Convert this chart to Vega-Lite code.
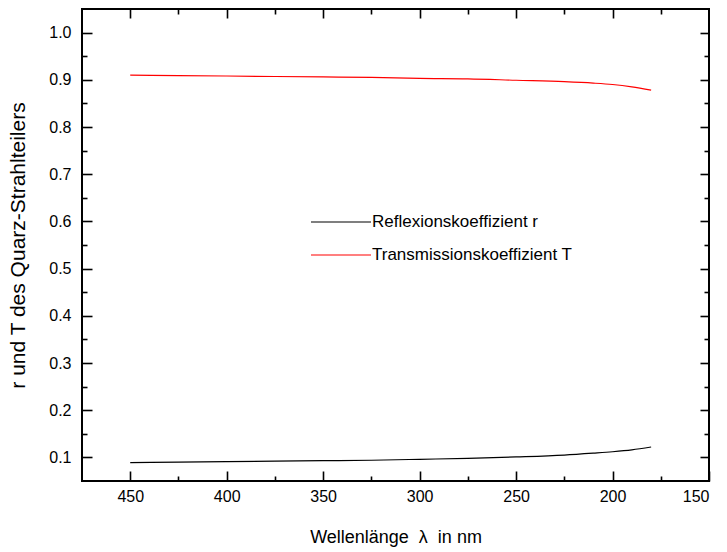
{
  "$schema": "https://vega.github.io/schema/vega-lite/v6.json",
  "width": 627,
  "height": 472,
  "autosize": {"type": "none"},
  "padding": {"left": 82, "top": 9, "right": 18, "bottom": 71},
  "background": "white",
  "config": {
    "font": "Liberation Sans",
    "view": {"stroke": "black", "strokeWidth": 2},
    "axis": {
      "grid": false,
      "domain": false,
      "tickColor": "black",
      "tickWidth": 1.6,
      "labelColor": "black",
      "titleColor": "black",
      "labelFont": "Liberation Sans",
      "titleFont": "Liberation Sans",
      "labelFontSize": 16,
      "titleFontSize": 18,
      "titleFontWeight": "normal"
    }
  },
  "data": {
    "values": [
      {"lambda": 450, "series": "Reflexionskoeffizient r", "value": 0.089},
      {"lambda": 425, "series": "Reflexionskoeffizient r", "value": 0.090},
      {"lambda": 400, "series": "Reflexionskoeffizient r", "value": 0.091},
      {"lambda": 375, "series": "Reflexionskoeffizient r", "value": 0.092},
      {"lambda": 350, "series": "Reflexionskoeffizient r", "value": 0.093},
      {"lambda": 325, "series": "Reflexionskoeffizient r", "value": 0.094},
      {"lambda": 300, "series": "Reflexionskoeffizient r", "value": 0.096},
      {"lambda": 275, "series": "Reflexionskoeffizient r", "value": 0.098},
      {"lambda": 250, "series": "Reflexionskoeffizient r", "value": 0.101},
      {"lambda": 225, "series": "Reflexionskoeffizient r", "value": 0.105},
      {"lambda": 210, "series": "Reflexionskoeffizient r", "value": 0.109},
      {"lambda": 200, "series": "Reflexionskoeffizient r", "value": 0.112},
      {"lambda": 190, "series": "Reflexionskoeffizient r", "value": 0.116},
      {"lambda": 180, "series": "Reflexionskoeffizient r", "value": 0.122},
      {"lambda": 450, "series": "Transmissionskoeffizient T", "value": 0.910},
      {"lambda": 425, "series": "Transmissionskoeffizient T", "value": 0.909},
      {"lambda": 400, "series": "Transmissionskoeffizient T", "value": 0.908},
      {"lambda": 375, "series": "Transmissionskoeffizient T", "value": 0.907},
      {"lambda": 350, "series": "Transmissionskoeffizient T", "value": 0.906},
      {"lambda": 325, "series": "Transmissionskoeffizient T", "value": 0.905},
      {"lambda": 300, "series": "Transmissionskoeffizient T", "value": 0.903},
      {"lambda": 275, "series": "Transmissionskoeffizient T", "value": 0.902},
      {"lambda": 250, "series": "Transmissionskoeffizient T", "value": 0.899},
      {"lambda": 225, "series": "Transmissionskoeffizient T", "value": 0.896},
      {"lambda": 210, "series": "Transmissionskoeffizient T", "value": 0.893},
      {"lambda": 200, "series": "Transmissionskoeffizient T", "value": 0.890},
      {"lambda": 190, "series": "Transmissionskoeffizient T", "value": 0.885},
      {"lambda": 180, "series": "Transmissionskoeffizient T", "value": 0.878}
    ]
  },
  "resolve": {"axis": {"x": "independent", "y": "independent"}},
  "layer": [
    {
      "mark": {"type": "line", "strokeWidth": 1.2, "interpolate": "monotone"},
      "encoding": {
        "x": {
          "field": "lambda", "type": "quantitative",
          "scale": {"domain": [150, 475], "reverse": true, "nice": false, "zero": false},
          "axis": {"orient": "bottom", "values": [450, 400, 350, 300, 250, 200, 150], "tickSize": 10, "offset": -10, "labelPadding": 7, "title": "Wellenlänge \u00a0λ\u00a0 in nm", "titlePadding": 24}
        },
        "y": {
          "field": "value", "type": "quantitative",
          "scale": {"domain": [0.05, 1.05], "nice": false, "zero": false},
          "axis": {"orient": "left", "values": [0.1, 0.2, 0.3, 0.4, 0.5, 0.6, 0.7, 0.8, 0.9, 1.0], "format": ".1f", "tickSize": 10, "offset": -10, "labelPadding": 11, "title": "r und T des Quarz-Strahlteilers", "titleFontSize": 21, "titlePadding": 20}
        },
        "color": {
          "field": "series", "type": "nominal",
          "scale": {"domain": ["Reflexionskoeffizient r", "Transmissionskoeffizient T"], "range": ["black", "red"]},
          "legend": {"orient": "none", "legendX": 228, "legendY": 202, "title": null, "symbolType": "M-1,0H5", "symbolSize": 400, "symbolStrokeWidth": 1.2, "labelFontSize": 17, "labelOffset": 40, "labelLimit": 0, "rowPadding": 14, "labelColor": "black", "labelFont": "Liberation Sans"}
        }
      }
    },
    {
      "mark": {"type": "line", "opacity": 0},
      "encoding": {
        "x": {"field": "lambda", "type": "quantitative", "axis": {"orient": "bottom", "values": [425, 375, 325, 275, 225, 175], "tickSize": 5, "offset": -5, "labels": false, "title": null}},
        "y": {"field": "value", "type": "quantitative", "axis": {"orient": "left", "values": [0.15, 0.25, 0.35, 0.45, 0.55, 0.65, 0.75, 0.85, 0.95], "tickSize": 5, "offset": -5, "labels": false, "title": null}},
        "detail": {"field": "series", "type": "nominal"}
      }
    },
    {
      "mark": {"type": "line", "opacity": 0},
      "encoding": {
        "x": {"field": "lambda", "type": "quantitative", "axis": {"orient": "top", "values": [450, 400, 350, 300, 250, 200], "tickSize": 9, "offset": -9, "labels": false, "title": null}},
        "y": {"field": "value", "type": "quantitative", "axis": {"orient": "right", "values": [0.1, 0.2, 0.3, 0.4, 0.5, 0.6, 0.7, 0.8, 0.9, 1.0], "tickSize": 9, "offset": -9, "labels": false, "title": null}},
        "detail": {"field": "series", "type": "nominal"}
      }
    },
    {
      "mark": {"type": "line", "opacity": 0},
      "encoding": {
        "x": {"field": "lambda", "type": "quantitative", "axis": {"orient": "top", "values": [425, 375, 325, 275, 225, 175], "tickSize": 5, "offset": -5, "labels": false, "title": null}},
        "y": {"field": "value", "type": "quantitative", "axis": {"orient": "right", "values": [0.15, 0.25, 0.35, 0.45, 0.55, 0.65, 0.75, 0.85, 0.95], "tickSize": 5, "offset": -5, "labels": false, "title": null}},
        "detail": {"field": "series", "type": "nominal"}
      }
    }
  ]
}
